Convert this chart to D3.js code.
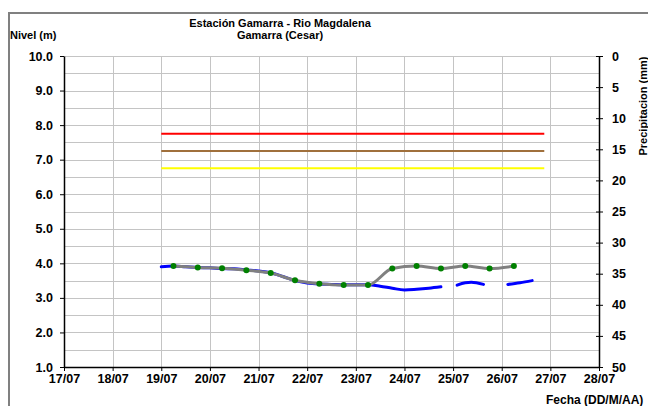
<!DOCTYPE html>
<html>
<head>
  <meta charset='utf-8'>
  <style>
  body { margin: 0; background: #fff; }
  svg { font-family: 'Liberation Sans', Arial, sans-serif; font-weight: bold; }
  .grid line { stroke: #c4c4c4; stroke-width: 1px; }
  .axis path, .axis line { stroke: #000; }
  .axis text { font-size: 12.5px; font-weight: bold; fill: #000; }
  </style>
</head>
<body>
<script src='https://d3js.org/d3.v7.min.js'></script>
<script>

var SVG_WIDTH = 648;
var SVG_HEIGHT = 406;

// observed level (gray line, green dots), every 12 h from 19/07 06:00
var levelTimes = ['2010-07-19 06', '2010-07-19 18', '2010-07-20 06', '2010-07-20 18',
  '2010-07-21 06', '2010-07-21 18', '2010-07-22 06', '2010-07-22 18', '2010-07-23 06',
  '2010-07-23 18', '2010-07-24 06', '2010-07-24 18', '2010-07-25 06', '2010-07-25 18',
  '2010-07-26 06'];
var levelValues = [3.92, 3.88, 3.86, 3.80, 3.72, 3.51, 3.41, 3.37, 3.37,
  3.85, 3.92, 3.85, 3.92, 3.85, 3.92];

// sensor level (blue line), null = gap
var sensorTimes = ['2010-07-19 00', '2010-07-19 06', '2010-07-19 12', '2010-07-19 18',
  '2010-07-20 00', '2010-07-20 06', '2010-07-20 12', '2010-07-20 18',
  '2010-07-21 00', '2010-07-21 06', '2010-07-21 12', '2010-07-21 18',
  '2010-07-22 00', '2010-07-22 06', '2010-07-22 12', '2010-07-22 18',
  '2010-07-23 00', '2010-07-23 06', '2010-07-23 12', '2010-07-23 18',
  '2010-07-24 00', '2010-07-24 06', '2010-07-24 12', '2010-07-24 18',
  '2010-07-25 00',
  '2010-07-25 02', '2010-07-25 06', '2010-07-25 09', '2010-07-25 15',
  '2010-07-25 22',
  '2010-07-26 03', '2010-07-26 09', '2010-07-26 15'];
var sensorValues = [3.90, 3.92, 3.90, 3.88,
  3.87, 3.85, 3.84, 3.81,
  3.78, 3.73, 3.62, 3.50,
  3.43, 3.40, 3.39, 3.38,
  3.38, 3.38, 3.34, 3.28,
  3.23, 3.25, 3.28, 3.32,
  null,
  3.37, 3.44, 3.45, 3.39,
  null,
  3.39, 3.44, 3.50];

// alert thresholds (m)
var thresholdNames = ['roja', 'naranja', 'amarilla'];
var thresholdValues = [7.75, 7.25, 6.75];
var thresholdColors = ['#ff0000', '#a0703c', '#ffff00'];
var thresholdStart = '2010-07-19 00';
var thresholdEnd = '2010-07-26 21';

var dateStart = '2010-07-17 00';
var dateEnd = '2010-07-28 00';
var levelTicks = [1, 2, 3, 4, 5, 6, 7, 8, 9, 10];
var rainTicks = [0, 5, 10, 15, 20, 25, 30, 35, 40, 45, 50];

var parseTime = d3.timeParse('%Y-%m-%d %H');

var margin = {top: 56, right: 49, bottom: 39, left: 64},
    width = SVG_WIDTH - margin.left - margin.right,
    height = SVG_HEIGHT - margin.top - margin.bottom;

var svg = d3.select('body').append('svg')
    .attr('width', SVG_WIDTH)
    .attr('height', SVG_HEIGHT);

// chart frame
svg.append('rect')
    .attr('x', 9).attr('y', 13)
    .attr('width', 700).attr('height', 500)
    .attr('fill', 'none')
    .attr('stroke', '#808080')
    .attr('stroke-width', 2);

var g = svg.append('g').attr('transform', 'translate(' + margin.left + ',' + margin.top + ')');

var x = d3.scaleTime()
    .domain([parseTime(dateStart), parseTime(dateEnd)])
    .range([0, width]);

var y = d3.scaleLinear().domain([1, 10]).range([height, 0]);
var yRain = d3.scaleLinear().domain([0, 50]).range([0, height]);

var dayTicks = d3.timeDay.range(parseTime(dateStart), d3.timeDay.offset(parseTime(dateEnd), 1));

// grid
g.append('g').attr('class', 'grid')
  .selectAll('line')
  .data(d3.range(1.5, 10.01, 0.5))
  .enter().append('line')
    .attr('x1', 0).attr('x2', width)
    .attr('y1', function(d) { return Math.round(y(d)) + 0.5; })
    .attr('y2', function(d) { return Math.round(y(d)) + 0.5; });

g.append('g').attr('class', 'grid')
  .selectAll('line')
  .data(dayTicks.slice(1, -1))
  .enter().append('line')
    .attr('x1', function(d) { return Math.round(x(d)) + 0.5; })
    .attr('x2', function(d) { return Math.round(x(d)) + 0.5; })
    .attr('y1', 0).attr('y2', height);

// axes
g.append('g')
    .attr('class', 'axis axis--x')
    .attr('transform', 'translate(0,' + height + ')')
    .call(d3.axisBottom(x).tickValues(dayTicks).tickFormat(d3.timeFormat('%d/%m'))
      .tickSize(4).tickSizeOuter(0).tickPadding(3));

g.append('g')
    .attr('class', 'axis axis--y')
    .call(d3.axisLeft(y).tickValues(levelTicks).tickFormat(d3.format('.1f'))
      .tickSize(4).tickSizeOuter(0).tickPadding(7));

var rightAxis = g.append('g')
    .attr('class', 'axis axis--rain')
    .attr('transform', 'translate(' + width + ',0)')
    .call(d3.axisRight(yRain).tickValues(rainTicks).tickSize(4).tickSizeOuter(0).tickPadding(9));
rightAxis.selectAll('.tick line').attr('x1', -3);

g.selectAll('.axis path').attr('stroke-width', 1.5);

// thresholds
g.append('g').selectAll('line')
  .data(thresholdValues)
  .enter().append('line')
    .attr('x1', x(parseTime(thresholdStart)))
    .attr('x2', x(parseTime(thresholdEnd)))
    .attr('y1', function(d) { return y(d); })
    .attr('y2', function(d) { return y(d); })
    .attr('stroke', function(d, i) { return thresholdColors[i]; })
    .attr('stroke-width', 2);

// sensor line
var sensor = sensorTimes.map(function(t, i) { return {date: parseTime(t), value: sensorValues[i]}; });
g.append('path')
    .datum(sensor)
    .attr('fill', 'none')
    .attr('stroke', '#0000ff')
    .attr('stroke-width', 3)
    .attr('stroke-linecap', 'round')
    .attr('d', d3.line()
      .defined(function(d) { return d.value !== null; })
      .curve(d3.curveMonotoneX)
      .x(function(d) { return x(d.date); })
      .y(function(d) { return y(d.value); }));

// observed level
var level = levelTimes.map(function(t, i) { return {date: parseTime(t), value: levelValues[i]}; });
g.append('path')
    .datum(level)
    .attr('fill', 'none')
    .attr('stroke', '#808080')
    .attr('stroke-width', 3)
    .attr('d', d3.line()
      .curve(d3.curveMonotoneX)
      .x(function(d) { return x(d.date); })
      .y(function(d) { return y(d.value); }));

g.selectAll('.dot')
  .data(level)
  .enter().append('circle')
    .attr('class', 'dot')
    .attr('cx', function(d) { return x(d.date); })
    .attr('cy', function(d) { return y(d.value); })
    .attr('r', 3)
    .attr('fill', '#008000');

// titles
svg.append('text')
    .attr('x', 280).attr('y', 27)
    .attr('text-anchor', 'middle')
    .style('font-size', '11px')
    .text('Estación Gamarra - Rio Magdalena');

svg.append('text')
    .attr('x', 280).attr('y', 38.5)
    .attr('text-anchor', 'middle')
    .style('font-size', '11px')
    .text('Gamarra (Cesar)');

svg.append('text')
    .attr('x', 10).attr('y', 38.5)
    .style('font-size', '11px')
    .text('Nivel (m)');

svg.append('text')
    .attr('x', 546).attr('y', 404)
    .style('font-size', '12px')
    .text('Fecha (DD/M/AA)');

svg.append('text')
    .attr('transform', 'translate(647,106) rotate(-90)')
    .attr('text-anchor', 'middle')
    .style('font-size', '11px')
    .text('Precipitacion (mm)');

</script>
</body>
</html>
